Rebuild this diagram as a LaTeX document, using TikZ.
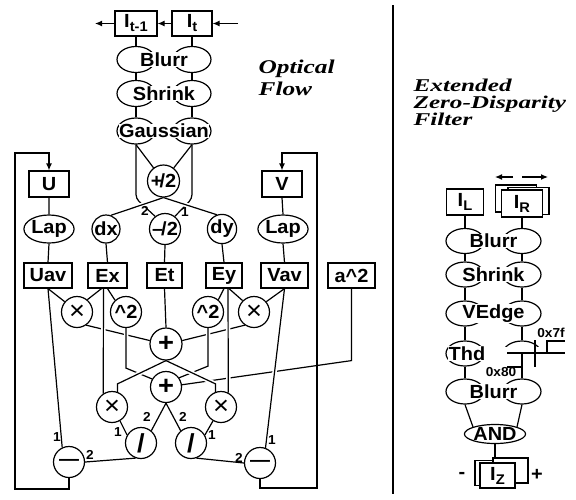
\documentclass[tikz,border=0pt]{standalone}
\usepackage{fontspec}
\setmainfont{Liberation Sans}
\newfontfamily\lblfont{Liberation Sans}[FakeStretch=1.05]
\newfontfamily\ttlfont{Liberation Serif}[FakeStretch=1.3]
\newfontfamily\ttlwfont{Liberation Serif}[FakeStretch=1.4]
\usetikzlibrary{shapes.geometric, arrows.meta, calc}
\newcommand{\bigtxt}{\lblfont\fontsize{19}{20}\selectfont\bfseries}
\newcommand{\smalltxt}{\lblfont\fontsize{13}{14}\selectfont\bfseries}
\newcommand{\multxt}{\lblfont\fontsize{26}{26}\selectfont\mdseries}
\newcommand{\optxt}{\lblfont\fontsize{26}{26}\selectfont\bfseries}
\newcommand{\ttltxt}{\ttlfont\fontsize{19.5}{20}\selectfont\bfseries\itshape}
\newcommand{\ttlwtxt}{\ttlwfont\fontsize{18}{18}\selectfont\bfseries\itshape}
\newcommand{\lowtxt}[1]{\raisebox{-4pt}{\fontsize{14}{14}\selectfont #1}}

\begin{document}
\begin{tikzpicture}[x=1pt, y=-1pt, line width=1.2pt,
  blk/.style={draw, fill=white, minimum width=40pt, minimum height=25pt, inner sep=0pt, font=\bigtxt},
  elli/.style={draw, ellipse, minimum width=38pt, minimum height=26pt, inner sep=0pt, font=\bigtxt},
  lbl/.style={fill=white, inner sep=0.5pt, font=\bigtxt},
  opn/.style={draw, circle, fill=white, minimum size=31pt, inner sep=0pt, font=\bigtxt},
  mult/.style={opn, font=\multxt},
  bigop/.style={opn, font=\optxt},
  num/.style={inner sep=0pt, font=\smalltxt},
  ttl/.style={anchor=base west, inner sep=0pt, font=\ttltxt},
  ttlw/.style={ttl, font=\ttlwtxt},
  arr/.style={-{Latex[length=7pt, width=6pt]}},
  wire/.style={preaction={draw=white, line width=4.5pt, shorten <=4pt, shorten >=4pt}}
]
\useasboundingbox (0,0) rectangle (576,499);

% optical flow
\node[blk, minimum width=42pt] (Itm) at (136,23.5) {I\lowtxt{t-1}};
\node[blk] (It) at (192,23.5) {I\lowtxt{t}};
\coordinate (inT) at (238,23.5);
\coordinate (outT) at (95,23.5);
\draw[arr] (inT) -- (It.east);
\draw[arr] (It.west) -- (Itm.east);
\draw[arr] (Itm.west) -- (outT);

\foreach \nm/\yy/\txt in {blu/59.5/Blurr, shr/93.5/Shrink, gau/131/Gaussian}{
  \node[elli] (\nm L) at (136,\yy) {};
  \node[elli] (\nm R) at (192,\yy) {};
  \node[lbl] (\nm T) at (164,\yy) {\txt};
}
\draw (Itm.south) -- (bluL.north) (bluL.south) -- (shrL.north) (shrL.south) -- (gauL.north);
\draw (It.south) -- (bluR.north) (bluR.south) -- (shrR.north) (shrR.south) -- (gauR.north);

\node[ttl] (tO1) at (258,73) {Optical};
\node[ttl] (tO2) at (258,95) {Flow};

\node[opn, minimum size=32pt] (hp) at (163.5,181) {+\kern-3pt/2};
\node[opn, minimum size=28pt] (dx) at (106,229) {dx};
\node[opn] (hm) at (165,229) {\textendash\kern-2pt/2};
\node[opn, minimum size=28pt] (dy) at (222,229) {dy};
\node[blk, minimum height=26pt] (U) at (49,184) {U};
\node[blk, minimum height=26pt] (V) at (282,184) {V};
\node[elli, minimum width=45pt, minimum height=28pt] (lapU) at (49,229) {Lap};
\node[elli, minimum width=45pt, minimum height=28pt] (lapV) at (283,229) {Lap};

\node[blk, minimum width=48pt] (Uav) at (48,275.5) {Uav};
\node[blk, minimum width=39pt] (Ex) at (107.5,275.5) {Ex};
\node[blk, minimum width=35pt] (Et) at (164.5,275.5) {Et};
\node[blk, minimum width=36pt] (Ey) at (224,275.5) {Ey};
\node[blk, minimum width=47pt] (Vav) at (284.5,275.5) {Vav};
\node[blk, minimum width=47pt] (asq) at (351.5,275.5) {a\textasciicircum 2};

\node[mult] (mulA) at (77,312) {×};
\node[opn] (sqA) at (126,312) {\textasciicircum 2};
\node[opn] (sqB) at (208,312) {\textasciicircum 2};
\node[mult] (mulB) at (254,312) {×};
\node[bigop, minimum size=32pt] (addA) at (166,344) {+};
\node[bigop] (addB) at (166,387) {+};
\node[mult] (mulC) at (112,407) {×};
\node[mult] (mulD) at (221,407) {×};
\node[bigop] (divA) at (141,443) {/};
\node[bigop] (divB) at (191,443) {/};
\node[opn] (subL) at (69,462) {—};
\node[opn] (subR) at (260,463) {—};

% averaging and time difference
\draw[rounded corners=4pt] (gauL.south) -- ($(gauL.south)+(0,54)$) -- (hm.128);
\draw[rounded corners=4pt] (gauR.south) -- ($(gauR.south)+(0,54)$) -- (hm.52);
\draw (gauL.south) -- (hp);
\draw (gauR.south) -- (hp);
\draw[wire] (hp.south) -- (dx.70);
\draw[wire] (hp.south) -- (dy.110);
\node[num] (hmi2) at (145,211) {2};
\node[num] (hmi1) at (185,212) {1};

\draw (U.south) -- (lapU.north) (lapU.south) -- (Uav.north);
\draw (V.south) -- (lapV.north) (lapV.south) -- (Vav.north);
\draw (dx.south) -- (Ex.north) (hm.south) -- (Et.north) (dy.south) -- (Ey.north);

% feedback loops
\coordinate (lpL) at (15,489);
\coordinate (topL) at (15,153);
\coordinate (lpR) at (317,488);
\coordinate (topR) at (317,153);
\draw[arr] (subL.south) |- (lpL) -- (topL) -| (U.north);
\draw[arr] (subR.south) |- (lpR) -- (topR) -| (V.north);

% update network
\draw (asq.south) -- ($(asq.south)+(0,72)$) -- (addB.8);
\draw (mulA.-55) -- (addA.168);
\draw (mulB.235) -- (addA.12);
\draw[wire] (sqA.south) -- ($(sqA.south)+(0,40)$) -- (addB.150);
\draw[wire] (sqB.south) -- ($(sqB.south)+(0,38)$) -- (addB.35);
\draw[wire] (Et.south) -- (addA.north);
\draw[wire] ([xshift=-4pt]Ex.south) -- (mulC.123);
\draw[wire] ([xshift=4pt]Ey.south) -- (mulD.63);
\draw[wire] ([xshift=-6pt]Ex.south) -- (mulA.50);
\draw[wire] (Ex.south) -- (sqA.133);
\draw[wire] (Uav.south) -- (mulA.140);
\draw[wire] (Uav.south) -- (subL.115);
\draw[wire] (Ey.south) -- (sqB.50);
\draw[wire] ([xshift=5pt]Ey.south) -- (mulB.135);
\draw[wire] (Vav.south) -- (mulB.40);
\draw[wire] (Vav.south) -- (subR.70);
\draw[wire] (addA.south) -- ($(mulC.70)+(0,-8)$) -- (mulC.70);
\draw[wire] (addA.south) -- ($(mulD.110)+(0,-8)$) -- (mulD.110);
\draw (addB.south) -- (divA.50);
\draw (addB.south) -- (divB.130);
\draw (mulC.-60) -- (divA.150);
\draw (mulD.240) -- (divB.30);
\draw (divA.250) -- (subL.0);
\draw (divB.290) -- (subR.180);
\node[num] (sLi1) at (57,437) {1};
\node[num] (sLi2) at (90,455) {2};
\node[num] (sRi1) at (272,440) {1};
\node[num] (sRi2) at (239,458) {2};
\node[num] (dAi2) at (147,417) {2};
\node[num] (dAi1) at (118,432) {1};
\node[num] (dBi2) at (183,417) {2};
\node[num] (dBi1) at (212,435) {1};

% separator
\coordinate (sepT) at (393,5);
\coordinate (sepB) at (393,494);
\draw (sepT) -- (sepB);

% zero-disparity filter
\node[ttlw] (tZ1) at (413,91) {Extended};
\node[ttlw] (tZ2) at (413,108) {Zero-Disparity};
\node[ttlw] (tZ3) at (413,125) {Filter};

\node[blk, minimum width=37pt, minimum height=26pt] (IL) at (465,202) {I\lowtxt{L}};
\node[blk, minimum width=41pt, minimum height=27pt] (IRb) at (516,198.5) {};
\node[blk, minimum width=41pt, minimum height=27pt] (IRc) at (528.5,201) {};
\node[blk, minimum width=41pt, minimum height=27pt] (IR) at (522,203.5) {I\lowtxt{R}};
\coordinate (shLa) at (513,177);
\coordinate (shLb) at (495,177);
\coordinate (shRa) at (522,177);
\coordinate (shRb) at (548,177);
\draw[arr] (shLa) -- (shLb);
\draw[arr] (shRa) -- (shRb);

\foreach \nm/\yy/\txt in {zb/241/Blurr, zs/274.5/Shrink, ze/313.5/VEdge, zf/391.5/Blurr}{
  \node[elli, minimum height=25pt] (\nm L) at (465,\yy) {};
  \node[elli, minimum height=25pt] (\nm R) at (522,\yy) {};
  \node[lbl] (\nm T) at (493.5,\yy) {\txt};
}
\node[elli, minimum height=25pt] (ztL) at (465,353.5) {};
\node[elli, minimum height=25pt] (ztR) at (522,353.5) {};
\node[lbl] (ztT) at (467,353.5) {Thd};

% threshold curve
\fill[white] (502,347) rectangle (544,368);
\draw (507,353) -- (565,353);
\draw (535,340) -- (535,367);
\draw (507,367) -- (522,367) -- (522,353) -- (547,353) -- (547,341) -- (565,341);
\node[num] (thHi) at (551,333) {0x7f};
\node[num] (thLo) at (501,372) {0x80};

\draw (IL.south) -- (zbL.north) (zbL.south) -- (zsL.north) (zsL.south) -- (zeL.north)
  (zeL.south) -- (ztL.north) (ztL.south) -- (zfL.north);
\draw (IR.south) -- (zbR.north) (zbR.south) -- (zsR.north) (zsR.south) -- (zeR.north)
  (zeR.south) -- (ztR.north);
\draw (ztR.south) -- (zfR.north);

\node[elli, minimum width=50pt, minimum height=19pt] (andN) at (495,434) {AND};
\draw (zfL.south) -- (andN.north west);
\draw (zfR.south) -- (andN.north east);

\node[blk, minimum width=35pt] (IZb) at (492.5,473) {};
\node[blk, minimum width=35pt] (IZc) at (510.5,470.5) {};
\node[blk, minimum width=35pt] (IZ) at (497.5,475.5) {I\lowtxt{Z}};
\draw (andN.south) -- (andN.south |- IZc.north);
\node[num, font=\bigtxt] (IZm) at (462,475) {-};
\node[num, font=\bigtxt] (IZp) at (537,475) {+};
\end{tikzpicture}
\end{document}
